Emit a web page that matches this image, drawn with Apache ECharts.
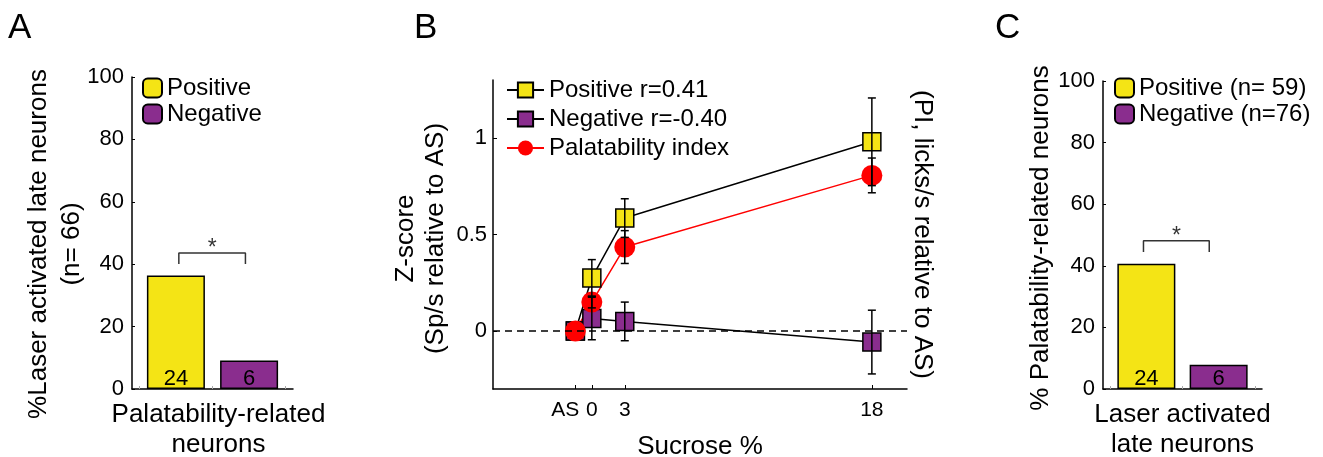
<!DOCTYPE html>
<html>
<head>
<meta charset="utf-8">
<script src="https://cdn.jsdelivr.net/npm/echarts@6/dist/echarts.min.js"></script>
<style>
html, body { margin: 0; background: #fff; }
#chart { width: 1323px; height: 457px; }
</style>
</head>
<body>
<div id="chart"></div>
<script>
// panel A / C : bars
const barPos = [1, 2]
const laserPercent = [36.4, 9.1]      // A: % of laser activated late neurons (n=66)
const laserCounts = [24, 6]
const palPercent = [40.7, 7.9]        // C: % of palatability-related neurons
const palCounts = [24, 6]
const barNamesA = ['Positive', 'Negative']
const barNamesC = ['Positive (n= 59)', 'Negative (n=76)']
// significance brackets [x1, x2, yTop, yLeg]
const sigA = [1.04, 1.95, 43.6, 40.1]
const sigC = [0.96, 1.87, 48.1, 44.5]

// panel B : z-score vs sucrose
const sucroseLabels = ['AS', '0', '3', '18']
const sucrosePos = [-1.5, 0, 3, 25.5]
const zTicks = [0, 0.5, 1]
const positiveZ = [0, 0.275, 0.585, 0.98]
const positiveErr = [0, 0.095, 0.10, 0.227]
const negativeZ = [0, 0.065, 0.05, -0.057]
const negativeErr = [0, 0.11, 0.10, 0.165]
const palIndex = [0, 0.15, 0.435, 0.806]
const palIndexErr = [0, 0.03, 0.085, 0.09]
const lineNames = ['Positive r=0.41', 'Negative r=-0.40', 'Palatability index']

const YELLOW = '#f4e415'
const PURPLE = '#8a2d8e'
const FONT = 'Liberation Sans, Arial, sans-serif'

var chart = echarts.init(document.getElementById('chart'))

function percentYAxis(gridIndex, name, gap, pad){
	return {
		type: 'value', gridIndex: gridIndex, min: 0, max: 100, interval: 20,
		axisLine: { show: true, onZero: false, lineStyle: { color: '#000', width: 1.5 } },
		axisTick: { inside: true, length: 3, lineStyle: { color: '#000' } },
		axisLabel: { fontSize: 22, color: '#000', margin: 8, fontFamily: FONT },
		splitLine: { show: false },
		name: name, nameLocation: 'middle', nameRotate: 90, nameGap: gap, nameMoveOverlap: false,
		nameTextStyle: { fontSize: 26, color: '#000', lineHeight: 33, fontFamily: FONT, padding: pad }
	}
}

function barXAxis(gridIndex, name, pad){
	return {
		type: 'value', gridIndex: gridIndex, min: 0.4, max: 2.6,
		axisLine: { show: true, onZero: false, lineStyle: { color: '#000', width: 1.5 } },
		axisTick: { show: true, inside: true, length: 3, customValues: [0.5, 1, 1.5, 2, 2.5], lineStyle: { color: '#aaa' } },
		axisLabel: { show: false },
		splitLine: { show: false },
		name: name, nameLocation: 'middle', nameGap: 11,
		nameTextStyle: { fontSize: 26, color: '#000', lineHeight: 30, fontFamily: FONT, padding: pad }
	}
}

function barSeries(idx, name, x, value, count, color){
	return {
		type: 'bar', name: name, xAxisIndex: idx, yAxisIndex: idx,
		data: [[x, value]], barWidth: 58, barGap: '-100%',
		itemStyle: { color: color, borderColor: '#000', borderWidth: 1.5 },
		label: { show: true, position: 'insideBottom', distance: 1, formatter: String(count),
			fontSize: 22, lineHeight: 18, color: '#000', fontFamily: FONT },
		emphasis: { disabled: true }
	}
}

function sigSeries(idx, s){
	return [
		{
			type: 'line', xAxisIndex: idx, yAxisIndex: idx, symbol: 'none', silent: true,
			data: [[s[0], s[3]], [s[0], s[2]], [s[1], s[2]], [s[1], s[3]]],
			lineStyle: { color: '#333', width: 1.5 }
		},
		{
			type: 'scatter', xAxisIndex: idx, yAxisIndex: idx, symbolSize: 0, silent: true,
			data: [[(s[0] + s[1]) / 2, s[2]]],
			label: { show: true, formatter: '*', position: 'top', distance: -7, fontSize: 23, color: '#000', fontFamily: FONT }
		}
	]
}

function errorBars(means, errs){
	const data = []
	sucrosePos.forEach((x, i) => {
		if(errs[i] > 0) data.push([x, means[i] - errs[i], means[i] + errs[i]])
	})
	return {
		type: 'custom', xAxisIndex: 1, yAxisIndex: 1, z: 10, silent: true,
		data: data,
		renderItem: (params, api) => {
			const lo = api.coord([api.value(0), api.value(1)])
			const hi = api.coord([api.value(0), api.value(2)])
			const w = 4
			const st = { stroke: '#000', lineWidth: 1.5 }
			return {
				type: 'group',
				children: [
					{ type: 'line', shape: { x1: lo[0], y1: lo[1], x2: hi[0], y2: hi[1] }, style: st },
					{ type: 'line', shape: { x1: lo[0] - w, y1: lo[1], x2: lo[0] + w, y2: lo[1] }, style: st },
					{ type: 'line', shape: { x1: hi[0] - w, y1: hi[1], x2: hi[0] + w, y2: hi[1] }, style: st }
				]
			}
		}
	}
}

function zLine(name, values, symbol, size, color, lineColor, border){
	return {
		type: 'line', name: name, xAxisIndex: 1, yAxisIndex: 1,
		data: sucrosePos.map((x, i) => [x, values[i]]),
		symbol: symbol, symbolSize: size, showAllSymbol: true,
		itemStyle: { color: color, borderColor: '#000', borderWidth: border, opacity: 1 },
		lineStyle: { color: lineColor, width: 1.5 },
		emphasis: { disabled: true }
	}
}

var legendText = { fontSize: 24, color: '#000', fontFamily: FONT }

let option = {
	backgroundColor: '#fff',
	animation: false,
	textStyle: { fontFamily: FONT },
	graphic: [
		{ type: 'text', left: 8, top: 11, style: { text: 'A', fontSize: 35, fill: '#000', fontFamily: FONT } },
		{ type: 'text', left: 414, top: 11, style: { text: 'B', fontSize: 35, fill: '#000', fontFamily: FONT } },
		{ type: 'text', left: 995, top: 11, style: { text: 'C', fontSize: 35, fill: '#000', fontFamily: FONT } }
	],
	grid: [
		{ left: 132, top: 77, width: 161, height: 312, outerBoundsMode: 'none', containLabel: false },
		{ left: 493, top: 80, width: 414, height: 309, outerBoundsMode: 'none', containLabel: false },
		{ left: 1103, top: 81, width: 159, height: 308, outerBoundsMode: 'none', containLabel: false }
	],
	legend: [
		{
			data: barNamesA, orient: 'vertical', left: 142, top: 76, padding: 0, itemGap: 2,
			itemWidth: 19, itemHeight: 19, textStyle: legendText, selectedMode: false
		},
		{
			data: lineNames, orient: 'vertical', left: 506, top: 78, padding: 0, itemGap: 5,
			itemWidth: 37, itemHeight: 19, textStyle: legendText, selectedMode: false
		},
		{
			data: barNamesC, orient: 'vertical', left: 1114, top: 76, padding: 0, itemGap: 2,
			itemWidth: 19, itemHeight: 19, textStyle: legendText, selectedMode: false
		}
	],
	xAxis: [
		barXAxis(0, 'Palatability-related\nneurons', [0, 0, 0, 12]),
		{
			type: 'value', gridIndex: 1, min: -9, max: 28.7,
			axisLine: { show: true, onZero: false, lineStyle: { color: '#000', width: 1.5 } },
			axisTick: { show: true, inside: true, length: 4, customValues: sucrosePos, lineStyle: { color: '#000' } },
			axisLabel: {
				show: true, customValues: sucrosePos, fontSize: 21, color: '#000', margin: 11, fontFamily: FONT,
				formatter: (v) => {
					const i = sucrosePos.findIndex(p => Math.abs(p - v) < 1e-6)
					if(i < 0) return ''
					return i === 0 ? '{as|' + sucroseLabels[i] + '}' : sucroseLabels[i]
				},
				rich: { as: { fontSize: 21, color: '#000', padding: [0, 20, 0, 0], fontFamily: FONT } }
			},
			splitLine: { show: false },
			name: 'Sucrose %', nameLocation: 'middle', nameGap: 45,
			nameTextStyle: { fontSize: 26, color: '#000', fontFamily: FONT }
		},
		barXAxis(2, 'Laser activated\nlate neurons', 0)
	],
	yAxis: [
		percentYAxis(0, '%Laser activated late neurons\n(n= 66)', 44, [0, 22, 0, 0]),
		{
			type: 'value', gridIndex: 1, min: -0.3, max: 1.3,
			axisLine: { show: true, onZero: false, lineStyle: { color: '#000', width: 1.5 } },
			axisTick: { show: true, inside: true, length: 4, customValues: zTicks, lineStyle: { color: '#000' } },
			axisLabel: { show: true, customValues: zTicks, fontSize: 22, color: '#000', margin: 6, fontFamily: FONT },
			splitLine: { show: false },
			name: 'Z-score\n(Sp/s relative to AS)', nameLocation: 'middle', nameRotate: 90, nameGap: 42, nameMoveOverlap: false,
			nameTextStyle: { fontSize: 26, color: '#000', lineHeight: 30, fontFamily: FONT, padding: [0, 8, 0, 0] }
		},
		percentYAxis(2, '% Palatability-related neurons', 46, [0, 6, 0, 0]),
		{
			type: 'value', gridIndex: 1, position: 'right', min: -0.3, max: 1.3,
			axisLine: { show: false }, axisTick: { show: false }, axisLabel: { show: false }, splitLine: { show: false },
			name: '(PI, licks/s relative to AS)', nameLocation: 'middle', nameRotate: -90, nameGap: 2,
			nameTextStyle: { fontSize: 26, color: '#000', fontFamily: FONT }
		}
	],
	series: [
		barSeries(0, barNamesA[0], barPos[0], laserPercent[0], laserCounts[0], YELLOW),
		barSeries(0, barNamesA[1], barPos[1], laserPercent[1], laserCounts[1], PURPLE),
		...sigSeries(0, sigA),
		barSeries(2, barNamesC[0], barPos[0], palPercent[0], palCounts[0], YELLOW),
		barSeries(2, barNamesC[1], barPos[1], palPercent[1], palCounts[1], PURPLE),
		...sigSeries(2, sigC),
		Object.assign(zLine(lineNames[0], positiveZ, 'rect', 18, YELLOW, '#000', 1.5), {
			markLine: {
				silent: true, symbol: 'none', label: { show: false },
				lineStyle: { color: '#000', width: 1.5, type: [7, 5] },
				data: [{ yAxis: 0 }]
			}
		}),
		zLine(lineNames[1], negativeZ, 'rect', 18, PURPLE, '#000', 1.5),
		zLine(lineNames[2], palIndex, 'circle', 21, '#ff0000', '#ff0000', 0),
		errorBars(positiveZ, positiveErr),
		errorBars(negativeZ, negativeErr),
		errorBars(palIndex, palIndexErr)
	]
}
chart.setOption(option)
</script>
</body>
</html>
